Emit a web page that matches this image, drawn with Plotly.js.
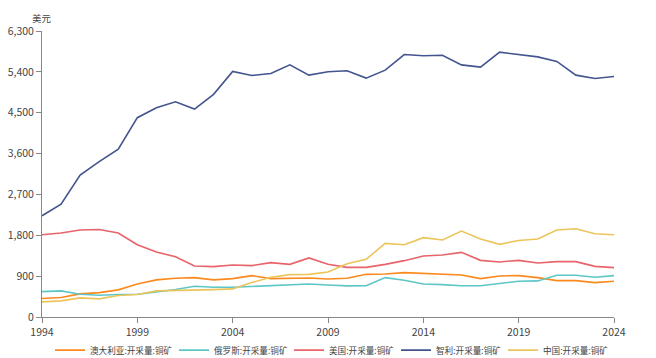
<!DOCTYPE html>
<html>
<head>
<meta charset="utf-8">
<script src="https://cdn.plot.ly/plotly-3.0.1.min.js"></script>
<style>html,body{margin:0;padding:0;background:#fff;}#chart{width:656px;height:358px;}</style>
</head>
<body>
<div id="chart"></div>
<script>
const years = [1994,1995,1996,1997,1998,1999,2000,2001,2002,2003,2004,2005,2006,2007,2008,2009,2010,2011,2012,2013,2014,2015,2016,2017,2018,2019,2020,2021,2022,2023,2024];
const australia = [406,428,510,538,598,729,817,853,868,817,846,912,846,853,860,838,853,940,948,977,962,955,926,846,904,912,868,802,802,758,787];
const russia = [560,575,501,479,494,501,549,604,677,655,655,670,690,714,728,706,685,690,868,809,728,714,690,690,736,787,795,919,919,875,912];
const usa = [1813,1850,1916,1929,1850,1593,1432,1329,1125,1109,1147,1131,1197,1160,1301,1160,1094,1094,1160,1241,1343,1367,1424,1248,1213,1248,1191,1219,1219,1116,1088];
const chile = [2230,2487,3124,3423,3695,4390,4609,4741,4581,4904,5409,5321,5365,5554,5328,5401,5423,5262,5438,5782,5756,5767,5554,5504,5833,5789,5730,5629,5328,5255,5299];
const china = [334,356,422,400,472,494,575,582,582,604,619,758,875,933,940,992,1175,1270,1621,1593,1747,1696,1894,1718,1601,1684,1718,1916,1945,1835,1813];
const names = ['澳大利亚:开采量:铜矿','俄罗斯:开采量:铜矿','美国:开采量:铜矿','智利:开采量:铜矿','中国:开采量:铜矿'];
const colors = ['#fb8a1e','#5ec6c6','#e8636a','#43548f','#ebc55b'];
const series = [australia, russia, usa, chile, china];
const yTicks = [0,900,1800,2700,3600,4500,5400,6300];
const xTicks = [1994,1999,2004,2009,2014,2019,2024];
const legendIds = ['legend','legend2','legend3','legend4','legend5'];
const legendLeftPx = [50, 174, 289, 396, 503];

const traces = series.map((s,i)=>({
  x: years, y: s, name: names[i], type:'scatter', mode:'lines',
  line:{color:colors[i], width:1.6},
  legend: legendIds[i],
  hoverinfo:'x+y+name'
}));

const font = "'Noto Sans CJK SC', 'Microsoft YaHei', sans-serif";
const M = {l:42, r:42, t:31, b:40.5};
const plotW = 656 - M.l - M.r, plotH = 358 - M.t - M.b;
const layout = {
  width:656, height:358,
  margin:{l:M.l, r:M.r, t:M.t, b:M.b, autoexpand:false},
  paper_bgcolor:'#fff', plot_bgcolor:'#fff',
  font:{family:font, size:10, color:'#444'},
  showlegend:true,
  xaxis:{range:[1994,2024], tickvals:xTicks, ticktext:xTicks.map(String),
         showgrid:false, zeroline:false, showline:true, linecolor:'#888', linewidth:1,
         ticks:'outside', ticklen:5, tickcolor:'#888', tickfont:{family:font,size:10.5,color:'#444'}},
  yaxis:{range:[0,6300], tickvals:yTicks, ticktext:yTicks.map(v=>v.toLocaleString('en-US')),
         showgrid:false, zeroline:false, showline:true, linecolor:'#888', linewidth:1,
         ticks:'outside', ticklen:5, tickcolor:'#888', tickfont:{family:font,size:10.5,color:'#444'}},
  annotations:[{text:'美元', xref:'paper', yref:'paper', x:0, y:1, xanchor:'center', yanchor:'bottom',
                yshift:4, showarrow:false, font:{family:font,size:9.5,color:'#444'}}]
};
legendIds.forEach((id,i)=>{
  layout[id] = {orientation:'h', x:(legendLeftPx[i]-M.l)/plotW, xanchor:'left',
                y:-(350.7-(M.t+plotH))/plotH, yanchor:'middle',
                font:{family:font, size:8.6, color:'#444'}, itemwidth:30,
                bgcolor:'rgba(0,0,0,0)', borderwidth:0};
});
Plotly.newPlot('chart', traces, layout, {displayModeBar:false, staticPlot:true});
</script>
</body>
</html>
